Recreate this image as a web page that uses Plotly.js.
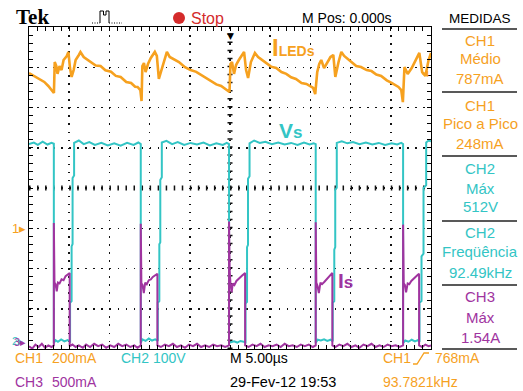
<!DOCTYPE html>
<html><head><meta charset="utf-8">
<script src="https://cdn.plot.ly/plotly-3.0.1.min.js"></script>
<style>html,body{margin:0;padding:0;background:#fff;overflow:hidden}#chart{width:523px;height:391px}</style>
</head><body><div id="chart"></div>
<script>
// Time in microseconds (screen spans -25 .. +25 us, 5 us/div)
const iledTime_us = [-25.0,-24.2,-23.6,-23.1,-22.6,-22.1,-21.9,-21.8,-21.6,-21.45,-21.2,-20.95,-20.7,-20.3,-20.1,-19.9,-19.7,-19.45,-19.2,-18.8,-18.6,-18.2,-17.3,-16.7,-16.1,-15.5,-14.8,-14.2,-13.6,-12.9,-12.3,-11.8,-11.5,-11.15,-11.0,
  -10.9,-10.7,-10.5,-10.2,-9.85,-9.35,-9.1,-8.85,-8.6,-8.2,-7.85,-7.5,-6.35,-5.6,-4.9,-4.2,-3.6,-3.0,-2.4,-1.7,-1.1,-0.25,-0.06,
  0.06,0.25,0.5,0.75,1.1,1.5,1.75,2.0,2.25,2.6,3.1,3.5,4.5,5.1,5.75,6.4,7.0,7.6,8.2,8.9,9.5,10.35,10.6,
  10.85,11.1,11.35,11.7,12.1,12.5,12.85,13.1,13.5,13.85,14.2,15.1,15.7,16.3,17.0,17.6,18.2,18.8,19.5,20.1,20.95,21.3,21.5,
  21.7,22.1,22.6,22.95,23.3,23.55,23.9,24.3,24.7,25.0];
const iled_mA = [771,752,737,727,707,682,672,826,806,767,806,786,836,856,876,796,752,786,836,861,876,851,826,809,806,785,778,757,752,727,722,703,702,687,632,
  806,821,776,816,846,876,856,742,776,836,876,851,826,800,786,777,762,745,732,715,707,682,677,
  816,826,767,811,836,861,876,786,747,826,871,851,821,803,796,776,767,750,742,722,717,697,667,
  776,816,836,796,826,851,861,752,826,876,856,826,806,801,786,781,764,757,735,722,702,687,627,
  801,767,796,826,851,871,776,757,836,871];

const vsTime_us = [-25.0,-24.4,-23.9,-23.3,-22.7,-22.2,-21.91,-21.91,-21.7,-21.4,-21.0,-20.6,-20.2,-19.89,-19.89,-19.70,-19.70,-19.58,-19.58,-19.39,-19.39,
  -18.8,-18.2,-17.5,-16.8,-16.0,-15.2,-14.4,-13.6,-12.8,-12.0,-11.4,-11.10,-11.10,-10.9,-10.5,-10.1,-9.7,-9.3,-8.98,-8.98,-8.79,-8.79,-8.67,-8.67,-8.48,-8.48,
  -7.9,-7.2,-6.5,-5.7,-4.9,-4.1,-3.3,-2.5,-1.7,-0.9,-0.4,-0.12,-0.12,0.1,0.5,0.9,1.3,1.7,1.93,1.93,2.12,2.12,2.24,2.24,2.43,2.43,
  3.0,3.7,4.4,5.2,6.0,6.8,7.6,8.4,9.2,9.9,10.4,10.66,10.66,10.9,11.3,11.7,12.1,12.5,12.78,12.78,12.97,12.97,13.09,13.09,13.28,13.28,
  13.9,14.6,15.3,16.1,16.9,17.7,18.5,19.3,20.1,20.8,21.3,21.53,21.53,21.8,22.2,22.6,23.0,23.35,23.57,23.57,23.82,23.82,24.07,24.07,24.4,24.4,24.7,25.0];
const vs_V = [494,498,492,500,493,497,495,0,7,3,9,4,7,4,100,104,240,246,410,416,497,
  503,494,499,492,497,491,496,490,497,492,498,494,0,9,5,11,6,9,5,100,104,245,250,405,412,498,
  502,494,499,492,497,493,498,491,496,492,497,494,0,2,4,1,5,3,2,98,102,238,244,408,414,496,
  503,497,500,494,498,493,497,492,498,493,496,494,0,8,6,9,5,8,4,100,104,232,238,380,386,497,
  501,496,499,494,498,493,497,492,496,493,497,494,0,6,3,8,4,7,3,100,104,215,222,385,392,498,503,501];

const isTime_us = [-25.0,-24.6,-24.2,-23.8,-23.4,-23.0,-22.6,-22.2,-21.91,-21.91,-21.86,-21.83,-21.7,-21.55,-21.4,-21.2,-20.95,-20.7,-20.45,-20.2,-19.94,-19.94,
  -19.6,-19.2,-18.8,-18.3,-17.9,-17.4,-16.9,-16.4,-15.9,-15.4,-14.9,-14.4,-13.9,-13.4,-12.9,-12.4,-11.9,-11.5,-11.10,
  -11.10,-11.05,-11.02,-10.88,-10.72,-10.55,-10.35,-10.1,-9.85,-9.6,-9.35,-9.03,-9.03,
  -8.6,-8.1,-7.6,-7.1,-6.6,-6.1,-5.6,-5.1,-4.6,-4.1,-3.6,-3.1,-2.6,-2.1,-1.6,-1.1,-0.6,-0.12,
  -0.12,-0.07,-0.04,0.05,0.2,0.35,0.55,0.8,1.05,1.3,1.55,1.88,1.88,
  2.3,2.8,3.3,3.8,4.3,4.8,5.3,5.8,6.3,6.8,7.3,7.8,8.3,8.8,9.3,9.8,10.3,10.66,
  10.66,10.71,10.74,10.88,11.05,11.25,11.45,11.75,12.0,12.25,12.5,12.73,12.73,
  13.1,13.6,14.1,14.6,15.1,15.6,16.1,16.6,17.1,17.6,18.1,18.6,19.1,19.6,20.1,20.6,21.1,21.53,
  21.53,21.58,21.61,21.75,21.9,22.1,22.3,22.55,22.8,23.05,23.3,23.52,23.52,23.9,24.3,24.7,25.0];
const is_A = [0.01,-0.02,0.03,0.0,0.04,-0.01,0.02,0.0,0.02,1.54,1.22,0.80,0.78,0.69,0.80,0.79,0.84,0.83,0.88,0.90,0.92,0.01,
  0.03,0.0,0.02,-0.01,0.03,0.0,0.04,0.01,0.03,-0.01,0.02,0.0,0.04,0.01,0.03,0.0,0.02,-0.01,0.02,
  1.53,1.18,0.79,0.77,0.67,0.80,0.78,0.83,0.84,0.87,0.89,0.91,0.02,
  0.0,0.03,0.01,0.04,0.0,0.02,-0.01,0.03,0.01,0.04,0.0,0.02,0.0,0.03,0.01,0.02,0.0,0.02,
  1.56,1.35,0.95,0.80,0.68,0.79,0.77,0.82,0.84,0.86,0.89,0.92,0.02,
  0.0,0.03,0.01,0.04,0.0,0.02,0.01,0.03,0.0,0.04,0.01,0.02,0.0,0.03,0.01,0.03,0.0,0.02,
  1.55,1.20,0.80,0.76,0.67,0.80,0.78,0.81,0.84,0.87,0.89,0.92,0.02,
  0.0,0.03,0.01,0.04,0.0,0.02,-0.01,0.03,0.01,0.04,0.0,0.02,0.0,0.03,0.01,0.02,0.0,0.02,
  1.52,1.15,0.79,0.77,0.68,0.79,0.78,0.82,0.84,0.86,0.89,0.91,0.02,0.0,0.03,0.01,0.02];

// Channel / timebase settings shown on screen
const CH1 = {scale: 200, ground: -1.0};   // mA/div
const CH2 = {scale: 100, ground: -3.85};  // V/div
const CH3 = {scale: 0.5, ground: -3.95};  // A/div
const TIME_PER_DIV = 5, TIME_CENTER = 0;  // us
const TRIGGER_mA = 768;

const measureLabels = [
  ["CH1","orange"],["Médio","orange"],["787mA","orange"],
  ["CH1","orange"],["Pico a Pico","orange"],["248mA","orange"],
  ["CH2","cyan"],["Máx","cyan"],["512V","cyan"],
  ["CH2","cyan"],["Freqüência","cyan"],["92.49kHz","cyan"],
  ["CH3","purple"],["Máx","purple"],["1.54A","purple"]
];

// ---------------- RENDERING ----------------
const COL = {orange:'#f6a11f', cyan:'#33c5c5', purple:'#a0349f', red:'#d42b2b'};
const FONT = 'Liberation Sans, Arial, sans-serif';
const xd = t => (t - TIME_CENTER) / TIME_PER_DIV + 5;
const yd = (v, ch) => ch.ground + v / ch.scale;

const L = 29, R = 431, T = 27, B = 349;
const px = x => (x - L) / (R - L);
const py = y => (B - y) / (B - T);

const traces = [
  {type:'scatter', mode:'lines', x: vsTime_us.map(xd), y: vs_V.map(v => yd(v, CH2)),
   line:{color:COL.cyan, width:2}, hoverinfo:'skip'},
  {type:'scatter', mode:'lines', x: isTime_us.map(xd), y: is_A.map(v => yd(v, CH3)),
   line:{color:COL.purple, width:2}, hoverinfo:'skip'},
  {type:'scatter', mode:'lines', x: iledTime_us.map(xd), y: iled_mA.map(v => yd(v, CH1)),
   line:{color:COL.orange, width:2.6}, hoverinfo:'skip'}
];

const axisCommon = {
  showticklabels:false, ticks:'inside', ticklen:4, tickwidth:1, tickcolor:'#000',
  showline:true, linecolor:'#000', linewidth:1, mirror:'allticks',
  showgrid:true, gridcolor:'#111', gridwidth:1.5, zeroline:false, fixedrange:true,
  minor:{dtick:0.2, ticks:'inside', ticklen:4, tickwidth:1, tickcolor:'#000', showgrid:false}
};

const ann = [];
function txt(text, x, y, color, size, opts) {
  ann.push(Object.assign({text:text, xref:'paper', yref:'paper', x:px(x), y:py(y),
    xanchor:'left', yanchor:'middle', showarrow:false,
    font:{family:FONT, size:size, color:color}}, opts || {}));
}
// header
txt('Tek', 14, 17, '#000', 21, {font:{family:'Liberation Serif, serif', size:21, color:'#000', weight:'bold'}});
txt('Stop', 189, 18, COL.red, 16);
txt('M Pos: 0.000s', 300, 18, '#000', 14);
txt('MEDIDAS', 480, 18, '#000', 13.5, {xanchor:'center'});
// measurement panel
const panelY = [40,59,78, 105,124,143, 168,188,207, 232,252,272, 296,317,337];
measureLabels.forEach((m, i) => txt(m[0], 480, panelY[i], COL[m[1]], 15, {xanchor:'center'}));
// bottom status
const SB = 14;
txt('CH1', 13, 358, COL.orange, SB); txt('200mA', 50, 358, COL.orange, SB);
txt('CH2', 119, 358, COL.cyan, SB); txt('100V', 151, 358, COL.cyan, SB);
txt('M 5.00µs', 228, 358, '#000', SB);
txt('CH1', 381, 358, COL.orange, SB); txt(TRIGGER_mA + 'mA', 433, 358, COL.orange, SB);
txt('CH3', 13, 382, COL.purple, SB); txt('500mA', 50, 382, COL.purple, SB);
txt('29-Fev-12 19:53', 228, 382, '#000', SB + 0.5);
txt('93.7821kHz', 381, 382, COL.orange, SB);
// trace labels
txt('I<span style="font-size:14px">LEDs</span>', 270, 47, COL.orange, 24, {font:{family:FONT, size:24, color:COL.orange, weight:'bold'}});
txt('V<span style="font-size:17px">s</span>', 277, 130, COL.cyan, 21, {font:{family:FONT, size:21, color:COL.cyan, weight:'bold'}});
txt('I<span style="font-size:17px">s</span>', 336, 280, COL.purple, 21, {font:{family:FONT, size:21, color:COL.purple, weight:'bold'}});
// channel ground markers (data y)
function marker(label, ch, color, xr, dy, size) {
  ann.push({text:label, xref:'paper', yref:'y', x:px(xr), y:ch.ground + (dy||0), xanchor:'right', yanchor:'middle',
    showarrow:false, font:{family:FONT, size:size||13, color:color}});
}
marker('1▸', CH1, COL.orange, 28);
marker('2▸', CH2, COL.cyan, 26, 0.06, 11);
marker('3▸', CH3, COL.purple, 28, 0.12, 11);
// trigger level marker (right edge) and trigger position marker (top)
ann.push({text:'◀', xref:'x', yref:'y', x:10, y:yd(TRIGGER_mA, CH1), xanchor:'right', yanchor:'middle',
  showarrow:false, font:{family:'DejaVu Sans', size:8, color:COL.orange}});
ann.push({text:'▼', xref:'x', yref:'paper', x:5, y:py(29), xanchor:'center', yanchor:'top',
  showarrow:false, font:{family:'DejaVu Sans', size:9, color:'#000'}});

const shapes = [
  // center cross graticule ticks
  {type:'line', xref:'x', yref:'y', x0:5, x1:5, y0:-4, y1:4, layer:'below', line:{color:'#111', width:5, dash:'1.5px,6.55px'}},
  {type:'line', xref:'x', yref:'y', x0:0, x1:10, y0:0, y1:0, layer:'below', line:{color:'#111', width:5, dash:'1.5px,6.54px'}},
  // stop dot
  {type:'circle', xref:'paper', yref:'paper', x0:px(173), x1:px(185), y0:py(24), y1:py(12), fillcolor:COL.red, line:{width:0}},
  // pulse icon
  {type:'path', xref:'paper', yref:'paper', line:{color:'#000', width:1},
   path:`M${px(100)},${py(23)} L${px(100)},${py(11)} L${px(103.5)},${py(11)} L${px(103.5)},${py(15)} L${px(106)},${py(15)} L${px(106)},${py(11)} L${px(109)},${py(11)} L${px(109)},${py(23)}`},
  {type:'line', xref:'paper', yref:'paper', x0:px(92), x1:px(100), y0:py(23), y1:py(23), line:{color:'#000', width:1, dash:'1px,1.5px'}},
  {type:'line', xref:'paper', yref:'paper', x0:px(109), x1:px(122), y0:py(23), y1:py(23), line:{color:'#000', width:1, dash:'1px,1.5px'}},
  // trigger slope icon
  {type:'path', xref:'paper', yref:'paper', line:{color:COL.orange, width:1.3},
   path:`M${px(413)},${py(364)} L${px(417)},${py(364)} L${px(424)},${py(353)} L${px(429)},${py(353)}`}
];
// panel separators
[29, 92, 156, 221, 285, 349].forEach(y => shapes.push({type:'line', xref:'paper', yref:'paper',
  x0:px(442), x1:px(517), y0:py(y), y1:py(y), line:{color:'#222', width:1.5}}));

const layout = {
  width:523, height:391, autosize:false,
  margin:{l:L, r:523-R, t:T, b:391-B, pad:0},
  paper_bgcolor:'#fff', plot_bgcolor:'#fff', showlegend:false,
  xaxis:Object.assign({}, axisCommon, {range:[0,10], dtick:1, tick0:0, griddash:'1.5px,6.54px'}),
  yaxis:Object.assign({}, axisCommon, {range:[-4,4], dtick:1, tick0:0, griddash:'1.5px,6.55px'}),
  annotations:ann, shapes:shapes
};

Plotly.newPlot('chart', traces, layout, {staticPlot:true, displayModeBar:false});
</script></body></html>
